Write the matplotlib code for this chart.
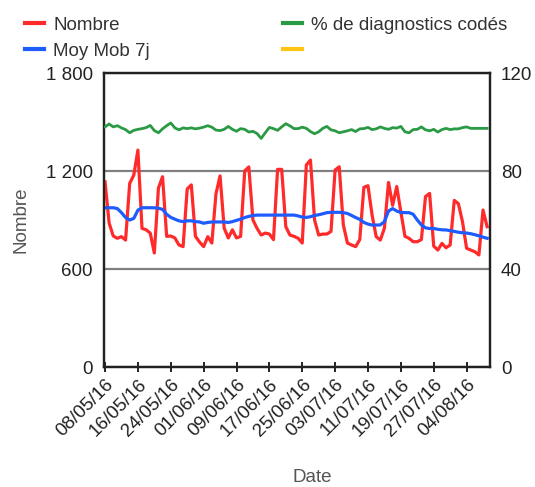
import numpy as np
import pandas as pd
import matplotlib
matplotlib.use('Agg')
import matplotlib.pyplot as plt
from matplotlib.lines import Line2D

plt.rcParams['font.family'] = ['Liberation Sans', 'DejaVu Sans']

# données (un point par jour)
start_date = '2016-05-08'
nombre = [1134, 881, 802, 788, 798, 777, 1124, 1175, 1328, 849,
          840, 820, 698, 1096, 1165, 800, 802, 790, 747, 737,
          1090, 1115, 800, 765, 737, 798, 759, 1060, 1170, 850,
          790, 840, 790, 800, 1200, 1225, 900, 849, 808, 820,
          814, 780, 1210, 1210, 859, 808, 800, 788, 759, 1237,
          1267, 900, 808, 814, 814, 830, 1206, 1226, 870, 759,
          747, 737, 780, 1100, 1110, 930, 798, 777, 850, 1130,
          990, 1105, 950, 800, 788, 767, 767, 780, 1043, 1063,
          740, 716, 757, 730, 747, 1020, 1000, 890, 727, 716,
          706, 686, 961, 859]
moy_mob = [975, 975, 975, 970, 945, 915, 900, 910, 960, 975,
           975, 975, 975, 972, 965, 935, 916, 905, 895, 890,
           895, 895, 890, 888, 880, 885, 888, 888, 888, 888,
           885, 890, 898, 905, 915, 922, 928, 930, 930, 930,
           930, 930, 930, 930, 930, 930, 930, 925, 918, 916,
           920, 928, 932, 938, 945, 947, 947, 947, 945, 940,
           928, 915, 904, 885, 875, 869, 869, 870, 890, 955,
           970, 955, 946, 945, 945, 935, 900, 870, 852, 848,
           848, 843, 840, 839, 835, 830, 825, 822, 820, 816,
           810, 803, 795, 788]
pct_codes = [98.0, 99.2, 98.0, 98.5, 97.6, 96.9, 95.6, 96.6, 97.0, 97.3,
             97.7, 98.6, 96.5, 95.6, 97.2, 98.5, 99.6, 97.6, 96.8, 97.6,
             97.3, 97.6, 97.2, 97.5, 97.9, 98.5, 97.9, 96.7, 96.5, 97.0,
             98.2, 97.0, 96.2, 97.3, 97.0, 95.9, 96.2, 95.3, 93.3, 95.6,
             97.8, 97.3, 96.6, 98.0, 99.3, 98.4, 97.3, 97.3, 97.9, 97.4,
             96.1, 95.2, 96.0, 97.4, 98.2, 96.8, 96.4, 95.6, 96.0, 96.4,
             96.9, 96.1, 97.2, 97.3, 97.8, 96.9, 97.2, 98.0, 97.4, 97.0,
             97.7, 97.5, 98.2, 96.0, 95.6, 96.9, 97.0, 98.0, 96.8, 96.4,
             97.0, 95.9, 96.9, 97.4, 96.9, 97.2, 97.2, 97.7, 98.0, 97.4,
             97.4, 97.4, 97.4, 97.4]
left_ticks = [0, 600, 1200, 1800]
left_labels = ['0', '600', '1 200', '1 800']
right_ticks = [0, 40, 80, 120]
tick_step = 8

dates = pd.date_range(start_date, periods=len(nombre), freq='D')
x = np.arange(len(nombre))

fig = plt.figure(figsize=(5.35, 4.87), dpi=100)
ax = fig.add_axes([104 / 535, 1 - 367 / 487, 386 / 535, 294 / 487])
ax2 = ax.twinx()

c_red = '#ff2a2a'
c_blue = '#1f5cff'
c_green = '#2b9a45'
c_yellow = '#ffc414'

ax.plot(x, nombre, color=c_red, lw=2.3, solid_joinstyle='round', zorder=3)
ax.plot(x, moy_mob, color=c_blue, lw=2.3, zorder=4)
ax2.plot(x, pct_codes, color=c_green, lw=2.0, zorder=3)

ax.set_xlim(-0.25, 93.7)
ax.set_ylim(0, 1800)
ax2.set_ylim(0, 120)

ax.set_yticks(left_ticks)
ax.set_yticklabels(left_labels)
ax2.set_yticks(right_ticks)
ax.grid(axis='y', color='#808080', lw=1.6)
ax.set_axisbelow(True)

xt = x[::tick_step]
ax.set_xticks(xt)
ax.set_xticklabels([d.strftime('%d/%m/%y') for d in dates[::tick_step]],
                   rotation=45, ha='right', rotation_mode='anchor')

for a in (ax, ax2):
    for s in a.spines.values():
        s.set_color('#222222')
        s.set_linewidth(1.6)
ax.tick_params(axis='y', length=0, labelsize=13.5, pad=8, colors='#222222')
ax2.tick_params(axis='y', length=0, labelsize=13.5, pad=8, colors='#222222')
ax.tick_params(axis='x', direction='inout', length=7, width=1.4,
               labelsize=13.5, pad=3, colors='#222222')

ax.set_ylabel('Nombre', fontsize=13.5, color='#555555', labelpad=12)
# titre de l'axe des x placé à la main (décalé comme dans l'original)
fig.text(312 / 535, 1 - 477 / 487, 'Date', fontsize=13.5, color='#555555',
         ha='center', va='center')

handles = [Line2D([], [], color=c_red, lw=3),
           Line2D([], [], color=c_blue, lw=3),
           Line2D([], [], color=c_green, lw=3),
           Line2D([], [], color=c_yellow, lw=3)]
labels = ['Nombre', 'Moy Mob 7j', '% de diagnostics codés', '']
fig.legend(handles, labels, ncol=2, loc='upper left',
           bbox_to_anchor=(0.015, 1.0), frameon=False, fontsize=13.5,
           handlelength=1.0, handletextpad=0.5, columnspacing=7.1,
           labelspacing=0.45, labelcolor='#333333')

fig.savefig('out.png', dpi=100)
